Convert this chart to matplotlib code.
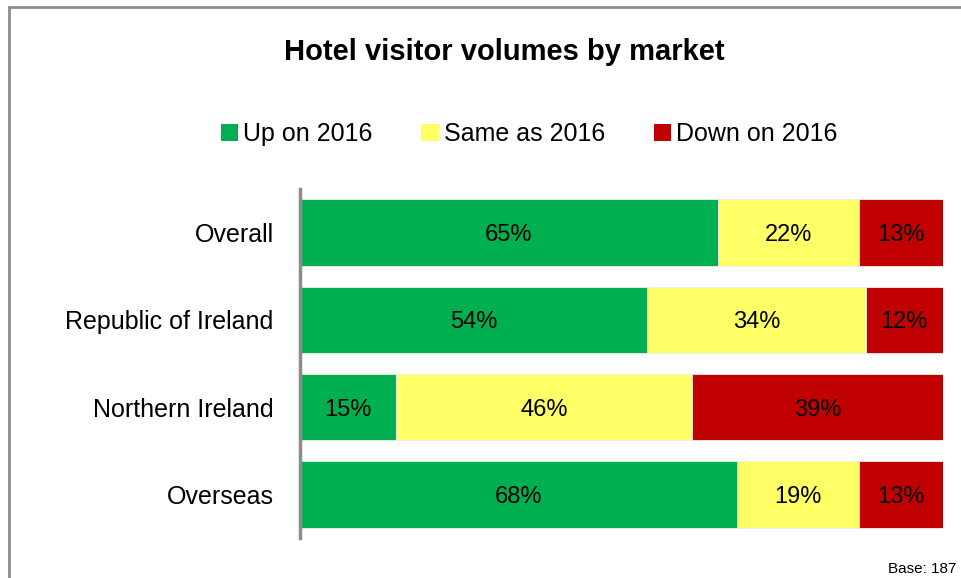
import matplotlib
matplotlib.use("Agg")
import matplotlib.pyplot as plt
from matplotlib.patches import Patch, Rectangle

plt.rcParams["font.family"] = ["Liberation Sans", "DejaVu Sans"]

# --- Data ------------------------------------------------------------------
markets = ["Overall", "Republic of Ireland", "Northern Ireland", "Overseas"]
up = [65, 54, 15, 68]
same = [22, 34, 46, 19]
down = [13, 12, 39, 13]
series_names = ["Up on 2016", "Same as 2016", "Down on 2016"]
colors = ["#00B050", "#FFFF66", "#C00000"]

fig = plt.figure(figsize=(9.61, 5.78), dpi=100)
ax = fig.add_axes([300 / 961, 1 - 538 / 578, 643 / 961, 349 / 578])

# outer frame (only top and left visible in the reference)
fig.patches.append(Rectangle((9 / 961, -0.1), 1.2, 1.1 - 7 / 578,
                             transform=fig.transFigure, fill=False,
                             edgecolor="#8c8c8c", linewidth=2, zorder=0))

y = list(range(len(markets)))
left = [0] * len(markets)
for vals, col in zip([up, same, down], colors):
    bars = ax.barh(y, vals, left=left, height=0.76, color=col,
                   edgecolor="#e8f0e8", linewidth=0.6)
    for b, v in zip(bars, vals):
        ax.text(b.get_x() + b.get_width() / 2, b.get_y() + b.get_height() / 2,
                f"{v}%", ha="center", va="center_baseline", fontsize=17,
                color="black")
    left = [l + v for l, v in zip(left, vals)]

ax.set_xlim(0, 100)
ax.set_ylim(len(markets) - 0.5, -0.5)
ax.set_yticks(y)
ax.set_yticklabels(markets, fontsize=18)
for lbl in ax.get_yticklabels():
    lbl.set_verticalalignment("center_baseline")
ax.tick_params(axis="y", length=0, pad=19)
ax.set_xticks([])
for s in ["top", "right", "bottom"]:
    ax.spines[s].set_visible(False)
ax.spines["left"].set_color("#8c8c8c")
ax.spines["left"].set_linewidth(2.5)

fig.text(504 / 961, 1 - 52 / 578, "Hotel visitor volumes by market",
         ha="center", va="center", fontsize=21, fontweight="bold")

handles = [Patch(facecolor=c, edgecolor="none") for c in colors]
fig.legend(handles, series_names, loc="center", ncol=3,
           bbox_to_anchor=(529 / 961, 1 - 134 / 578), frameon=False,
           fontsize=18, handlelength=0.7, handleheight=0.7,
           handletextpad=0.2, columnspacing=1.95)

fig.text(956 / 961, 1 - 576 / 578, "Base: 187", ha="right", va="bottom",
         fontsize=11)

fig.savefig("out.png", dpi=100)
